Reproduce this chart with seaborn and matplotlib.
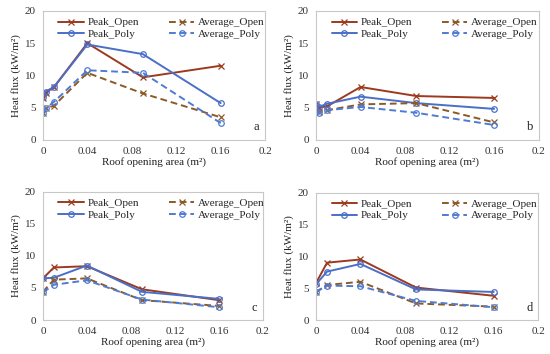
import matplotlib
matplotlib.use("Agg")
import matplotlib.pyplot as plt
import seaborn as sns
import pandas as pd
import numpy as np

sns.set_theme(style="white")
plt.rcParams['font.family'] = ['Liberation Serif', 'DejaVu Serif']

# ---- data ----
x_ab = [0, 0.0025, 0.01, 0.04, 0.09, 0.16]
x_cd = [0, 0.01, 0.04, 0.09, 0.16]

a_peak_open = [6.5, 7.3, 8.2, 15.0, 9.7, 11.5]
a_peak_poly = [6.6, 7.5, 8.2, 14.8, 13.3, 5.7]
a_avg_open = [4.1, 4.9, 5.3, 10.4, 7.2, 3.5]
a_avg_poly = [4.2, 4.9, 5.9, 10.8, 10.4, 2.6]

b_peak_open = [5.6, 5.0, 5.2, 8.2, 6.8, 6.5]
b_peak_poly = [5.6, 5.1, 5.6, 6.7, 5.7, 4.8]
b_avg_open = [4.5, 4.3, 4.6, 5.5, 5.7, 2.7]
b_avg_poly = [4.4, 4.1, 4.6, 5.1, 4.2, 2.3]

c_peak_open = [6.5, 8.2, 8.4, 4.8, 3.1]
c_peak_poly = [6.5, 6.6, 8.5, 4.4, 3.3]
c_avg_open = [4.4, 6.3, 6.5, 3.1, 2.2]
c_avg_poly = [4.3, 5.5, 6.2, 3.2, 2.0]

d_peak_open = [5.8, 9.0, 9.5, 5.1, 3.8]
d_peak_poly = [5.6, 7.6, 8.8, 4.8, 4.4]
d_avg_open = [4.4, 5.5, 6.0, 2.6, 2.1]
d_avg_poly = [4.4, 5.4, 5.3, 3.0, 2.0]

series_names = ["Peak_Open", "Peak_Poly", "Average_Open", "Average_Poly"]
x_ticks = [0, 0.04, 0.08, 0.12, 0.16, 0.2]
x_ticklabels = ["0", "0.04", "0.08", "0.12", "0.16", "0.2"]
y_ticks = [0, 5, 10, 15, 20]

panels = [
    ("a", x_ab, [a_peak_open, a_peak_poly, a_avg_open, a_avg_poly]),
    ("b", x_ab, [b_peak_open, b_peak_poly, b_avg_open, b_avg_poly]),
    ("c", x_cd, [c_peak_open, c_peak_poly, c_avg_open, c_avg_poly]),
    ("d", x_cd, [d_peak_open, d_peak_poly, d_avg_open, d_avg_poly]),
]

styles = {
    "Peak_Open": dict(color="#9B3A1E", linestyle="-", marker="x", mfc="#9B3A1E"),
    "Peak_Poly": dict(color="#4A6FC8", linestyle="-", marker="o", mfc="none"),
    "Average_Open": dict(color="#8C5A26", linestyle=(0, (3.5, 2.0)), marker="x", mfc="#8C5A26"),
    "Average_Poly": dict(color="#4F7BD2", linestyle=(0, (3.5, 2.0)), marker="o", mfc="none"),
}

positions = [
    [0.078, 0.605, 0.404, 0.364],
    [0.5745, 0.605, 0.405, 0.364],
    [0.078, 0.096, 0.400, 0.362],
    [0.5745, 0.096, 0.404, 0.360],
]

fig = plt.figure(figsize=(5.5, 3.54), dpi=100)

for (letter, xs, vals), pos in zip(panels, positions):
    ax = fig.add_axes(pos)
    for name, v in zip(series_names, vals):
        st = styles[name]
        df = pd.DataFrame({"x": xs, "y": v})
        sns.lineplot(data=df, x="x", y="y", ax=ax, color=st["color"],
                     linestyle=st["linestyle"], marker=st["marker"],
                     markersize=4, markerfacecolor=st["mfc"],
                     markeredgecolor=st["color"], markeredgewidth=0.9,
                     linewidth=1.4, label=name, dashes=False)
    ax.set_xlim(0, 0.2)
    ax.set_ylim(0, 20)
    ax.set_xticks(x_ticks)
    ax.set_xticklabels(x_ticklabels)
    ax.set_yticks(y_ticks)
    ax.tick_params(axis="both", labelsize=8, length=0, pad=5, colors="#333333")
    for sp in ax.spines.values():
        sp.set_color("#C8C8C8")
        sp.set_linewidth(0.8)
    ax.set_xlabel("Roof opening area (m\u00b2)", fontsize=8, labelpad=1, color="#222222")
    ax.set_ylabel("Heat flux (kW/m\u00b2)", fontsize=8, labelpad=3, color="#222222")
    ax.text(0.195, 1.0, letter, ha="right", va="bottom", fontsize=9, color="#222222")
    handles, labels = ax.get_legend_handles_labels()
    ax.legend(handles, labels, ncol=2, loc="upper left", frameon=False,
              fontsize=8, handlelength=2.3, columnspacing=2.7,
              labelspacing=0.15, borderaxespad=0.2, handletextpad=0.3,
              bbox_to_anchor=(0.04, 1.0))

fig.savefig("out.png", dpi=100)
